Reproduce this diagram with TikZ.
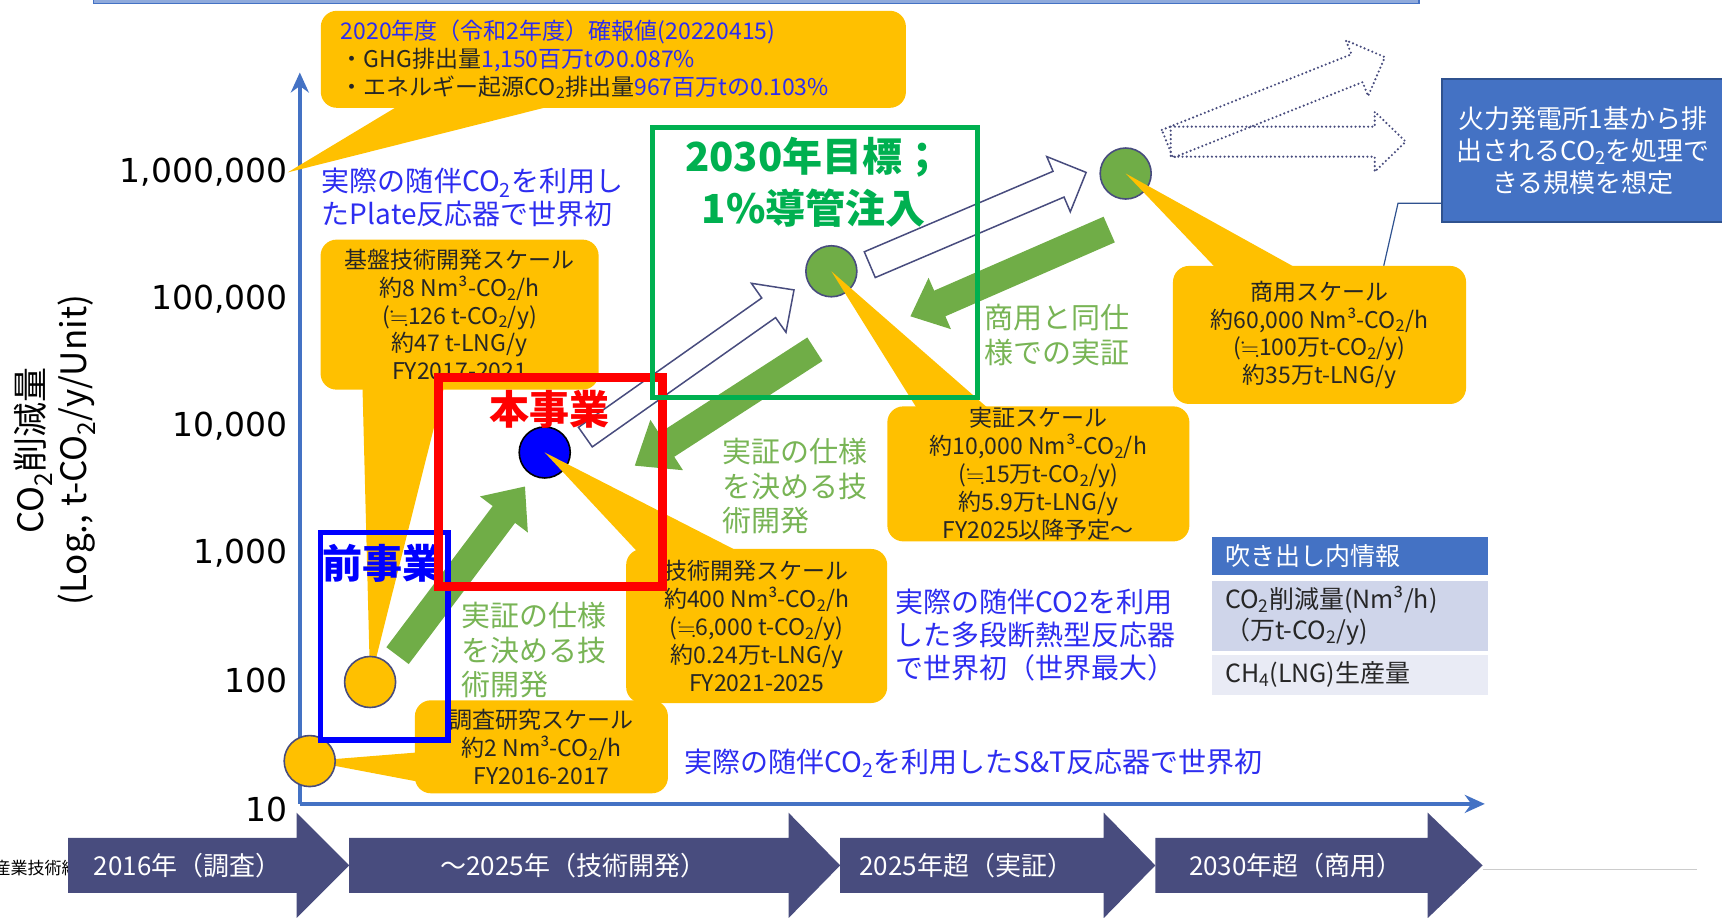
\documentclass[tikz,border=0pt]{standalone}
\usepackage{amssymb}
\usepackage{fontspec}
\setmainfont{Noto Sans CJK JP}
\newfontfamily\tickfont{DejaVu Sans}
\usetikzlibrary{calc,arrows.meta}
\definecolor{callorange}{HTML}{FFC000}
\definecolor{leafgreen}{HTML}{70AD47}
\definecolor{txtgreen}{RGB}{120,180,85}
\definecolor{txtblue}{RGB}{45,45,240}
\definecolor{slate}{RGB}{72,76,126}
\definecolor{axisblue}{HTML}{4472C4}
\definecolor{framegreen}{HTML}{00B050}
\definecolor{notedge}{HTML}{2F528F}
\definecolor{rowmid}{HTML}{CFD5EA}
\definecolor{rowlow}{HTML}{E9EBF5}
\definecolor{barfill}{HTML}{8FAADC}
\newcommand{\fsz}[2]{\fontsize{#1}{#2}\selectfont}
\newcommand{\nearlyeq}{$\fallingdotseq$}
% 矢印: スタイル, 始点, 先端, 軸の半幅, 頭の半幅, 頭の長さ
\newcommand{\blockarrow}[6]{%
  \coordinate (ba-h) at ($(#3)!#6!(#2)$);
  \draw[#1] ($(#2)!#4!90:(#3)$) -- ($(ba-h)!#4!90:(#3)$) -- ($(ba-h)!#5!90:(#3)$) -- (#3)
    -- ($(ba-h)!#5!-90:(#3)$) -- ($(ba-h)!#4!-90:(#3)$) -- ($(#2)!#4!-90:(#3)$) -- cycle;
}
\begin{document}
\begin{tikzpicture}[x=1.098pt, y=-1.098pt,
  call/.style={fill=callorange, rounded corners=16pt, inner sep=0pt, align=center, text=black!85, font=\fsz{23pt}{27.8pt}},
  dot/.style={circle, draw=slate, line width=1.6pt, minimum size=51pt, inner sep=0pt, fill=#1},
  garrow/.style={fill=leafgreen, draw=none},
  harrow/.style={draw=slate, fill=white, line width=1.5pt},
  darrow/.style={draw=slate, line width=2.4pt, line cap=round, dash pattern=on 0pt off 4.2pt},
  chevron/.style={fill=slate},
  chevlabel/.style={text=white, font=\fsz{26pt}{30pt}},
  ticklab/.style={anchor=east, font=\tickfont\fsz{33pt}{36pt}, inner sep=0pt},
  bluenote/.style={anchor=west, align=left, text=txtblue, font=\fsz{28pt}{33pt}, inner sep=0pt},
  greennote/.style={anchor=west, align=left, text=txtgreen, font=\fsz{29pt}{34.5pt}, inner sep=0pt},
  zone/.style={line width=#1},
  legendrow/.style={minimum width=276pt, text width=250pt, inner xsep=13pt, inner ysep=0pt, align=left, text=black!85, font=\fsz{25pt}{31pt}, fill=#1},
]
\useasboundingbox (0,0) rectangle (1568,835);
\clip (0,0) rectangle (1568,835);

% 上の帯
\draw[axisblue, fill=barfill, line width=1.5pt] (85,-10) rectangle (1292,3);

% 年表
\node[anchor=west, font=\fsz{17pt}{20pt}, inner sep=0pt] (org) at (-6,790) {産業技術総};
\foreach \xa/\xb/\xc in {62/270/318, 318/718/765, 765/1005/1052, 1052/1300/1350}
  \fill[chevron] (\xa,763) -- (\xb,763) -- (\xb,740) -- (\xc,788) -- (\xb,836) -- (\xb,813) -- (\xa,813) -- cycle;
\node[chevlabel] (y2016) at (171,788) {2016年（調査）};
\node[chevlabel] (y2025a) at (522,788) {～2025年（技術開発）};
\node[chevlabel] (y2025b) at (880,788) {2025年超（実証）};
\node[chevlabel] (y2030) at (1180,788) {2030年超（商用）};
\draw[gray!40, line width=1pt] (1350,792) -- (1545,792);

% 軸
\draw[axisblue, line width=4.4pt, -{Stealth[length=20pt,width=18pt]}] (273,732) -- (273,66);
\draw[axisblue, line width=4.4pt, -{Stealth[length=20pt,width=18pt]}] (273,732) -- (1352,732);
\node[ticklab] (t1m) at (262,157) {1,000,000};
\node[ticklab] (t100k) at (262,272) {100,000};
\node[ticklab] (t10k) at (262,388) {10,000};
\node[ticklab] (t1k) at (262,504) {1,000};
\node[ticklab] (t100) at (262,620) {100};
\node[ticklab] (t10) at (262,737) {10};
\node[rotate=90, align=center, font=\fsz{35pt}{43pt}] (ylab) at (50,410) {CO\textsubscript{2}削減量\\(Log., t-CO\textsubscript{2}/y/Unit)};

% 矢印
\coordinate (g1s) at (362,597); \coordinate (g1e) at (478,443);
\coordinate (g2s) at (742,318); \coordinate (g2e) at (578,424);
\coordinate (g3s) at (1010,209); \coordinate (g3e) at (829,288);
\coordinate (o1s) at (533,398); \coordinate (o1e) at (723,264);
\coordinate (o2s) at (792,241); \coordinate (o2e) at (989,157);
\coordinate (d1s) at (1063,131); \coordinate (d1e) at (1261,52);
\coordinate (d2s) at (1066,129); \coordinate (d2e) at (1280,129);
\blockarrow{garrow}{g1s}{g1e}{14pt}{30pt}{35pt}
\blockarrow{garrow}{g2s}{g2e}{14pt}{30pt}{38pt}
\blockarrow{garrow}{g3s}{g3e}{14pt}{28pt}{32pt}
\blockarrow{harrow}{o1s}{o1e}{12pt}{30pt}{31pt}
\blockarrow{harrow}{o2s}{o2e}{14pt}{30pt}{30pt}
\blockarrow{darrow}{d1s}{d1e}{15pt}{30pt}{30pt}
\blockarrow{darrow}{d2s}{d2e}{15pt}{30pt}{31pt}

% 丸
\coordinate (cA-pos) at (282,693);
\coordinate (cB-pos) at (337,621);
\node[dot=blue, draw=black] (cC) at (496,412) {};
\node[dot=leafgreen] (cD) at (757,247) {};
\node[dot=leafgreen] (cE) at (1025,158) {};

% 吹き出し
\fill[callorange] (365,95) -- (508,95) -- (t1m.east) -- cycle;
\node[call, minimum width=585pt, minimum height=97pt, text width=545pt, inner xsep=20pt, align=left] (fy2020) at (558.5,54)
  {\textcolor{txtblue}{2020年度（令和2年度）確報値(20220415)}\\
   ・GHG排出量\textcolor{txtblue}{1,150百万tの0.087\%}\\
   ・エネルギー起源CO\textsubscript{2}排出量\textcolor{txtblue}{967百万tの0.103\%}};
\fill[callorange] (330,350) -- (405,350) -- (cB-pos) -- cycle;
\node[call, minimum width=278pt, minimum height=150pt] (kiban) at (418.5,286.5)
  {基盤技術開発スケール\\約8 Nm³-CO\textsubscript{2}/h\\(\nearlyeq126 t-CO\textsubscript{2}/y)\\約47 t-LNG/y\\FY2017-2021};
\fill[callorange] (cC.center) -- (580,502) -- (672,502) -- cycle;
\node[call, minimum width=261pt, minimum height=154pt] (gijutsu) at (689,570)
  {技術開発スケール\\約400 Nm³-CO\textsubscript{2}/h\\(\nearlyeq6,000 t-CO\textsubscript{2}/y)\\約0.24万t-LNG/y\\FY2021-2025};
\fill[callorange] (cD.center) -- (835,372) -- (900,372) -- cycle;
\node[call, minimum width=302pt, minimum height=135pt] (jissho) at (945.5,431.5)
  {実証スケール\\約10,000 Nm³-CO\textsubscript{2}/h\\(\nearlyeq15万t-CO\textsubscript{2}/y)\\約5.9万t-LNG/y\\FY2025以降予定～};
\fill[callorange] (cE.center) -- (1108,245) -- (1182,245) -- cycle;
\node[call, minimum width=293pt, minimum height=138pt] (shoyo) at (1201.5,305)
  {商用スケール\\約60,000 Nm³-CO\textsubscript{2}/h\\(\nearlyeq100万t-CO\textsubscript{2}/y)\\約35万t-LNG/y};
\fill[callorange] (382,685) -- (382,712) -- (cA-pos) -- cycle;
\node[call, minimum width=253pt, minimum height=93pt] (chosa) at (493,680)
  {調査研究スケール\\約2 Nm³-CO\textsubscript{2}/h\\FY2016-2017};
\node[dot=callorange] (cA) at (cA-pos) {};
\node[dot=callorange] (cB) at (cB-pos) {};

% 青と緑の文字
\node[bluenote] (plate) at (293,180) {実際の随伴CO\textsubscript{2}を利用し\\たPlate反応器で世界初};
\node[bluenote] (multi) at (815,578) {実際の随伴CO2を利用\\した多段断熱型反応器\\で世界初（世界最大）};
\node[bluenote] (st) at (623,695) {実際の随伴CO\textsubscript{2}を利用したS\&T反応器で世界初};
\node[greennote] (spec1) at (420,592) {実証の仕様\\を決める技\\術開発};
\node[greennote] (spec2) at (658,443) {実証の仕様\\を決める技\\術開発};
\node[greennote] (same) at (896,305) {商用と同仕\\様での実証};

% 枠
\draw[zone=5.5pt, blue] (292,485) rectangle (408,674);
\node[text=blue, font=\bfseries\fsz{40pt}{44pt}] (mae) at (348,513) {前事業};
\draw[zone=9pt, red] (399,344) rectangle (603,534);
\node[text=red, font=\bfseries\fsz{40pt}{44pt}] (hon) at (500,373) {本事業};
\draw[zone=5.5pt, framegreen] (594,116) rectangle (890,362);
\node[text=framegreen, font=\bfseries\fsz{40pt}{51.6pt}, align=center] (goal) at (741,166) {2030年目標；\\1\%導管注入};

% 凡例
\node[legendrow=axisblue, text=white, minimum height=38pt] (lg-head) at (1229.5,506) {吹き出し内情報};
\node[legendrow=rowmid, minimum height=70pt] (lg-co2) at (1229.5,561) {CO\textsubscript{2}削減量(Nm³/h)\\（万t-CO\textsubscript{2}/y)};
\node[legendrow=rowlow, minimum height=40pt] (lg-ch4) at (1229.5,614.5) {CH\textsubscript{4}(LNG)生産量};

% 注記
\node[fill=axisblue, draw=notedge, line width=1.5pt, text=white, align=center, minimum width=282pt, minimum height=143pt, font=\fsz{26pt}{32pt}] (note) at (1441.5,137)
  {火力発電所1基から排\\出されるCO\textsubscript{2}を処理で\\きる規模を想定};
\draw[notedge, line width=1.2pt] (note.west |- 0,185) -- (1273,185) -- (shoyo.north -| 1260,0);
\end{tikzpicture}
\end{document}
